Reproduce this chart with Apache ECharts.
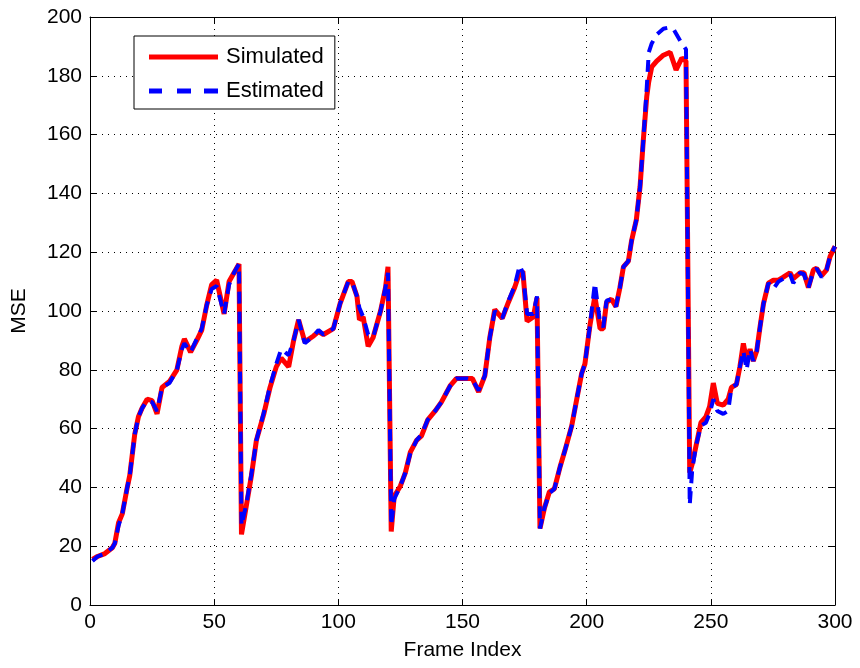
<!DOCTYPE html>
<html>
<head>
<meta charset="utf-8">
<script src="https://cdn.jsdelivr.net/npm/echarts@6/dist/echarts.min.js"></script>
<style>
html,body{margin:0;padding:0;background:#fff;}
#chart{width:860px;height:668px;}
</style>
</head>
<body>
<div id="chart"></div>
<script>
const frames = [1, 3, 6, 9, 10, 11.5, 13, 15, 16, 18, 19.5, 21, 23, 25, 27, 29, 32, 35, 37, 38, 40.5, 43, 45, 47, 49, 51, 54, 56, 58, 60,
  61, 63, 65, 67, 70, 72.5, 75, 77, 80, 82, 84, 86.5, 90, 92, 94, 98, 100.7, 104, 105.5, 107.5, 108.5, 110, 112, 114, 117, 119, 120,
  121.3, 122.5, 125, 127, 129, 131.5, 133.5, 136, 139, 141.5, 145, 147.5, 152, 154, 156.5, 159, 161, 163, 166, 168.5, 171, 173, 174.3, 176, 178.5, 180,
  181.2, 183, 185, 187, 189.3, 191.3, 194, 196, 198, 199.3, 201.3, 203.3, 205.4, 206.7, 208, 210, 211.8, 213.4, 214.8, 216.8, 218.1, 220, 221.5, 222.8, 224.2, 225,
  226.2, 228.2, 230.9, 233.6, 235.2, 236, 238.3, 240, 241.5, 242.5, 244, 246, 248, 249.5, 251, 252.6, 255, 257, 258.3, 260.3, 261.7, 263.1, 264.4, 265.8, 267.1,
  268.5, 269.8, 271.2, 273.2, 275.2, 277.2, 279.2, 281.9, 283.2, 285.9, 287.5, 289.3, 291.3, 292.6, 294.6, 296.6, 298, 300];

const simulated = [15.5, 16.5, 17.5, 19.5, 21, 28, 31, 40, 44, 58, 64, 67, 70, 69.5, 65, 74, 76, 80, 88, 90.5, 86, 90, 93.5, 102, 109, 110.5, 99, 110, 113, 116,
  24, 34, 44, 56, 65, 74, 81, 84, 81, 90, 97, 89.5, 91.5, 93, 92, 94, 102.5, 110, 110, 105, 97, 98, 88, 91, 100, 108, 115,
  25, 37, 40.5, 45, 52, 56, 57.5, 63, 66, 69, 74.5, 77, 77, 77, 72.5, 78, 91, 100.5, 97.5, 103, 108, 113, 113.5, 96.5, 98, 104.5,
  26, 33, 38.5, 39.5, 47, 52.7, 61, 70, 78.8, 82, 95, 105, 94, 94, 103, 104, 101.5, 108, 115, 117, 124, 131, 142.3, 158, 173, 178,
  183, 185, 187, 188, 184, 182, 186, 185, 45, 48, 54, 62, 64, 67.5, 75.5, 68.6, 68, 70, 74, 75, 81, 89, 83, 87, 83,
  86.5, 94.5, 102.5, 109.5, 110.5, 110.5, 111.5, 113, 111, 113, 113, 108, 114, 114.5, 112, 114, 118.5, 122];

const estimated = [15, 16.5, 17.5, 19.5, 21, 27, 31, 40, 44, 58, 64, 67, 69.5, 69, 66, 74, 75.5, 80, 87, 89, 86, 90.5, 94, 102, 107.5, 108.5, 99, 109, 113, 116,
  27, 34.5, 44.5, 56, 65.5, 74.5, 82, 87, 85, 90, 97, 89, 91.5, 93.5, 92, 94, 102.5, 110, 110, 105, 101, 98, 92, 91, 100, 108, 113,
  27, 36, 40.5, 45, 51.6, 56, 58, 63, 66, 69, 74.5, 77, 77, 76.5, 73, 78, 91, 100, 97.5, 103.5, 108.5, 115.5, 113, 99, 99, 105,
  26, 33, 38, 39.5, 47, 52.7, 61, 70, 78.8, 82, 95, 109.5, 96, 94.5, 103.5, 104, 101.5, 108, 115, 117, 124, 131, 142.3, 158, 176, 188,
  191, 194, 196, 196.5, 195.5, 195, 191, 189, 34, 46, 54, 61, 62, 65, 70, 66, 65, 66, 74, 75, 81, 86.5, 80, 87, 83,
  86.5, 94.5, 102.5, 109.5, 107.5, 110, 111, 112.5, 109.5, 113, 112.5, 108, 113.5, 114.5, 111.5, 114, 118.5, 122];

const xTicks = { min: 0, max: 300, interval: 50 };
const yTicks = { min: 0, max: 200, interval: 20 };

const FONT = 'Liberation Sans, Arial, Helvetica, sans-serif';
const chart = echarts.init(document.getElementById('chart'), null, { renderer: 'canvas' });

const gridLine = { show: true, lineStyle: { color: '#000', width: 1, type: [1, 5] } };
const axisLine = { show: true, onZero: false, lineStyle: { color: '#000', width: 1 } };
const tick = { show: true, inside: true, length: 6, lineStyle: { color: '#000', width: 1 } };

const option = {
  backgroundColor: '#fff',
  animation: false,
  grid: { left: 90, right: 25, top: 17, bottom: 63, containLabel: false },
  legend: {
    orient: 'vertical',
    left: 134,
    top: 36,
    padding: [10, 11, 7, 15],
    itemGap: 12,
    itemWidth: 69,
    itemHeight: 5,
    borderColor: '#000',
    borderWidth: 1,
    backgroundColor: '#fff',
    textStyle: { fontFamily: FONT, fontSize: 22, color: '#000', lineHeight: 22, padding: [0, 0, 0, 3] },
    data: [
      { name: 'Simulated', icon: 'path://M0,0h69v5h-69z', itemStyle: { color: '#ff0000' } },
      { name: 'Estimated', icon: 'path://M0,0h13v5h-13zM28,0h14v5h-14zM55,0h14v5h-14z', itemStyle: { color: '#0000ff' } }
    ]
  },
  xAxis: [{
    type: 'value', min: xTicks.min, max: xTicks.max, interval: xTicks.interval,
    name: 'Frame Index', nameLocation: 'middle', nameGap: 35,
    nameTextStyle: { fontFamily: FONT, fontSize: 21, color: '#000' },
    axisLine: axisLine, axisTick: tick, splitLine: gridLine,
    axisLabel: { fontFamily: FONT, fontSize: 21, color: '#000', margin: 7 }
  }, {
    type: 'value', position: 'top', min: xTicks.min, max: xTicks.max, interval: xTicks.interval,
    axisLine: axisLine, axisTick: tick, splitLine: { show: false }, axisLabel: { show: false }
  }],
  yAxis: [{
    type: 'value', min: yTicks.min, max: yTicks.max, interval: yTicks.interval,
    name: 'MSE', nameLocation: 'middle', nameGap: 60, nameRotate: 90,
    nameTextStyle: { fontFamily: FONT, fontSize: 21, color: '#000' },
    axisLine: axisLine, axisTick: tick, splitLine: gridLine,
    axisLabel: { fontFamily: FONT, fontSize: 21, color: '#000', margin: 8 }
  }, {
    type: 'value', position: 'right', min: yTicks.min, max: yTicks.max, interval: yTicks.interval,
    axisLine: axisLine, axisTick: tick, splitLine: { show: false }, axisLabel: { show: false }
  }],
  series: [{
    name: 'Simulated', type: 'line', xAxisIndex: 0, yAxisIndex: 0,
    showSymbol: false, symbol: 'none',
    data: frames.map((f, i) => [f, simulated[i]]),
    lineStyle: { color: '#ff0000', width: 5, type: 'solid' },
    itemStyle: { color: '#ff0000' }
  }, {
    name: 'Estimated', type: 'line', xAxisIndex: 0, yAxisIndex: 0,
    showSymbol: false, symbol: 'none',
    data: frames.map((f, i) => [f, estimated[i]]),
    lineStyle: { color: '#0000ff', width: 4, type: [12, 8] },
    itemStyle: { color: '#0000ff' }
  }]
};
chart.setOption(option);
</script>
</body>
</html>
